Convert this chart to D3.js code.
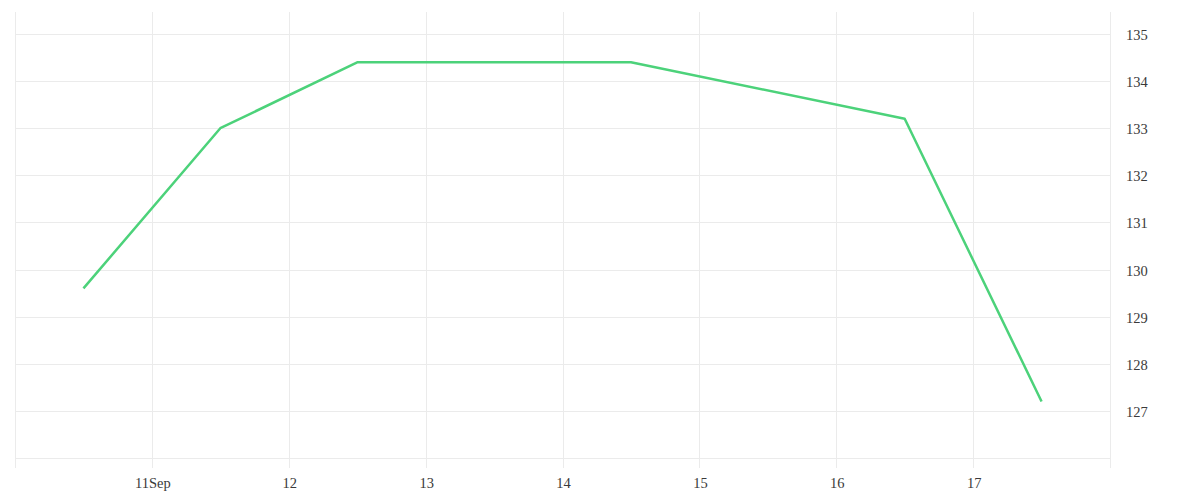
<!DOCTYPE html>
<html><head><meta charset="utf-8">
<script src="https://cdn.jsdelivr.net/npm/d3@7"></script>
<style>body{margin:0;background:#fff}svg text{font-family:"Liberation Serif","Times New Roman",serif;font-size:14.5px;fill:#3a3a3a}</style>
</head><body><svg id="c" width="1200" height="500"></svg>
<script>
const dates = ["2023-09-10T12:00","2023-09-11T12:00","2023-09-12T12:00","2023-09-13T12:00","2023-09-14T12:00","2023-09-15T12:00","2023-09-16T12:00","2023-09-17T12:00"];
const values = [129.6, 133.0, 134.4, 134.4, 134.4, null, 133.2, 127.2];
const yTicks = [127,128,129,130,131,132,133,134,135];
const yGrid = [126,127,128,129,130,131,132,133,134,135];
const xTickDates = ["2023-09-10","2023-09-11","2023-09-12","2023-09-13","2023-09-14","2023-09-15","2023-09-16","2023-09-17","2023-09-18"];
const xTickLabels = ["","11Sep","12","13","14","15","16","17",""];

(function(){
const parse = d3.timeParse("%Y-%m-%dT%H:%M");
const parseD = d3.timeParse("%Y-%m-%d");
const pts = dates.map((d,i)=>({x:parse(d), y:values[i]})).filter(p=>p.y!=null);
const tickD = xTickDates.map(parseD);

const svg = d3.select("#c");
const pL=15, pR=1110, pT=12, pB=458;
const x = d3.scaleTime().domain([tickD[0], tickD[tickD.length-1]]).range([pL,pR]);
const y = d3.scaleLinear().domain([126, 135.467]).range([pB, pT]);
const grid = "#ebebeb";

svg.append("g").selectAll("line").data(tickD).join("line")
  .attr("x1",d=>Math.round(x(d))+0.5).attr("x2",d=>Math.round(x(d))+0.5)
  .attr("y1",pT).attr("y2",468).attr("stroke",grid).attr("stroke-width",1);
svg.append("g").selectAll("line").data(yGrid).join("line")
  .attr("x1",pL).attr("x2",pR)
  .attr("y1",d=>Math.round(y(d))+0.5).attr("y2",d=>Math.round(y(d))+0.5)
  .attr("stroke",grid).attr("stroke-width",1);

svg.append("g").selectAll("text").data(tickD).join("text")
  .attr("x",d=>x(d)+1).attr("y",488).attr("text-anchor","middle")
  .text((d,i)=>xTickLabels[i]);
svg.append("g").selectAll("text").data(yTicks).join("text")
  .attr("x",1126).attr("y",d=>y(d)+6).attr("text-anchor","start")
  .text(d=>d);

const line = d3.line().x(d=>x(d.x)).y(d=>y(d.y));
svg.append("path").datum(pts).attr("d",line).attr("fill","none")
  .attr("stroke","#4cd27a").attr("stroke-width",2.5).attr("stroke-linejoin","round");
})();
</script></body></html>
